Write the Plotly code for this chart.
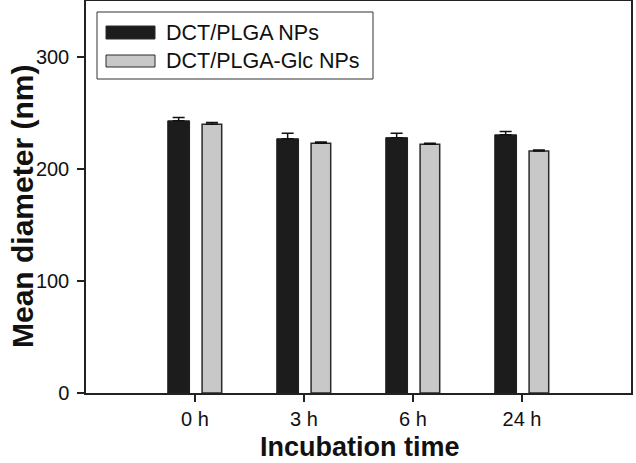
import plotly.graph_objects as go

categories = ["0 h", "3 h", "6 h", "24 h"]
series_names = ["DCT/PLGA NPs", "DCT/PLGA-Glc NPs"]
plga_mean = [243, 227, 228, 230.5]
plga_err = [3, 5, 4, 3]
glc_mean = [240, 223, 222, 216]
glc_err = [1.5, 1, 1, 1]
y_ticks = [0, 100, 200, 300]
x_title = "Incubation time"
y_title = "Mean diameter (nm)"

colors = ["#1c1c1c", "#c8c8c8"]
FONT = "Liberation Sans, Arial, sans-serif"

xpos = list(range(len(categories)))

fig = go.Figure()
fig.add_trace(go.Bar(
    x=xpos, y=plga_mean, name=series_names[0],
    width=0.2, offset=-0.25,
    marker=dict(color=colors[0], line=dict(color="#1c1c1c", width=1)),
    error_y=dict(type="data", symmetric=False, array=plga_err,
                 arrayminus=[0] * len(plga_err), color="#111", thickness=1.5, width=6),
    showlegend=False,
))
fig.add_trace(go.Bar(
    x=xpos, y=glc_mean, name=series_names[1],
    width=0.18, offset=0.065,
    marker=dict(color=colors[1], line=dict(color="#2a2a2a", width=1.5)),
    error_y=dict(type="data", symmetric=False, array=glc_err,
                 arrayminus=[0] * len(glc_err), color="#111", thickness=1.5, width=6),
    showlegend=False,
))

# plot area: x 86..631 px, y 1..393 px
L, R, T, B = 86, 631, 1, 393
W, H = R - L, B - T
def px(x):
    return (x - L) / W
def py(y):
    return (B - y) / H

shapes = [
    dict(type="rect", xref="paper", yref="paper",
         x0=px(97), x1=px(373), y0=py(79), y1=py(12),
         line=dict(color="#333", width=1), fillcolor="white", layer="above"),
]
annotations = []
rows = [(26, 39, 32.5), (55, 67, 61)]
for i, name in enumerate(series_names):
    y0, y1, yc = rows[i]
    shapes.append(dict(type="rect", xref="paper", yref="paper",
                       x0=px(106), x1=px(155), y0=py(y1), y1=py(y0),
                       fillcolor=colors[i], line=dict(color="#2a2a2a", width=1),
                       layer="above"))
    annotations.append(dict(text=name, xref="paper", yref="paper",
                            x=px(164), y=py(yc), xanchor="left", yanchor="middle",
                            showarrow=False, font=dict(size=21.5, color="#111", family=FONT)))

annotations.append(dict(text="<b>%s</b>" % x_title, xref="paper", yref="paper",
                        x=px(360), y=py(447), xanchor="center", yanchor="middle",
                        borderpad=0,
                        showarrow=False, font=dict(size=27, color="#111", family=FONT)))
annotations.append(dict(text="<b>%s</b>" % y_title, xref="paper", yref="paper",
                        x=px(22), y=py(207), xanchor="center", yanchor="middle",
                        textangle=-90, borderpad=0,
                        showarrow=False, font=dict(size=30, color="#111", family=FONT)))

fig.update_layout(
    width=636, height=463,
    margin=dict(l=L, r=636 - R, t=T, b=463 - B, autoexpand=False),
    plot_bgcolor="white", paper_bgcolor="white",
    barmode="group",
    font=dict(family=FONT, color="#111"),
    shapes=shapes, annotations=annotations,
    xaxis=dict(
        range=[-1, 4], tickvals=xpos, ticktext=categories,
        showgrid=False, zeroline=False, automargin=False,
        showline=True, linecolor="#222", linewidth=1.5, mirror=True,
        ticks="outside", ticklen=7, tickwidth=1.5, tickcolor="#222",
        ticklabelstandoff=0,
        tickfont=dict(size=20, family=FONT, color="#111"),
    ),
    yaxis=dict(
        range=[0, 350], tickvals=y_ticks,
        showgrid=False, zeroline=False, automargin=False,
        showline=True, linecolor="#222", linewidth=1.5, mirror=True,
        ticks="outside", ticklen=7, tickwidth=1.5, tickcolor="#222",
        ticklabelstandoff=4,
        tickfont=dict(size=20, family=FONT, color="#111"),
    ),
)

fig.write_html("out.html", config={"displayModeBar": False},
               post_script="document.body.style.margin='0';")
